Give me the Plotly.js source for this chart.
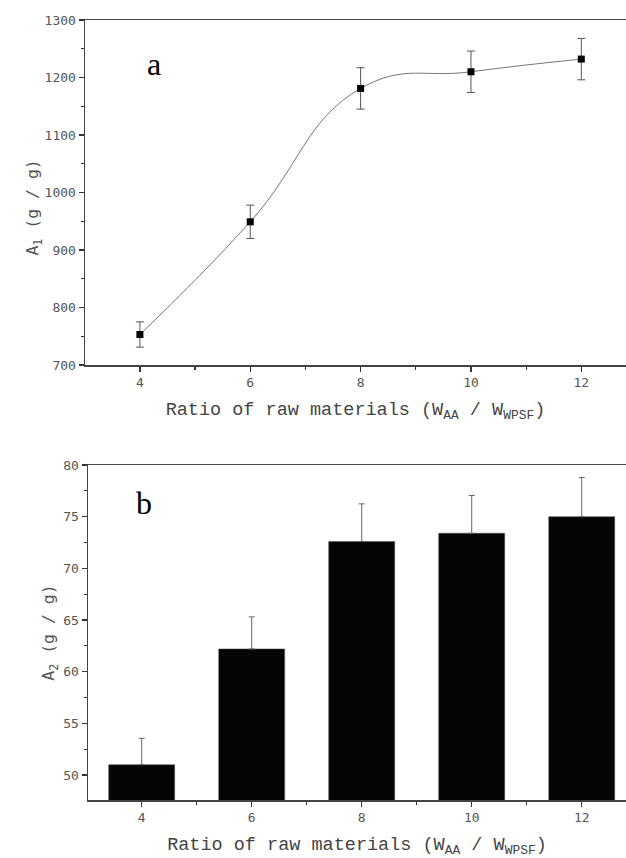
<!DOCTYPE html>
<html>
<head>
<meta charset="utf-8">
<script src="https://cdn.plot.ly/plotly-3.0.1.min.js"></script>
<style>html,body{margin:0;padding:0;background:#fff;}#chart{width:626px;height:858px;}</style>
</head>
<body>
<div id="chart"></div>
<script>
// Panel a: A1 (g/g) vs ratio
const ratio = [4, 6, 8, 10, 12];
const a1 = [753, 949, 1181, 1210, 1232];
const a1Err = [22, 29, 36, 36, 36];
// Panel b: A2 (g/g) bars
const a2 = [51.0, 62.2, 72.6, 73.4, 75.0];
const a2Err = [2.55, 3.1, 3.64, 3.65, 3.78];
const xTickVals = [4, 6, 8, 10, 12];
const xTickText = ['4', '6', '8', '10', '12'];

const tickFont = {family: 'DejaVu Sans Mono, monospace', size: 13, color: '#555'};
const titleFont = {family: 'Liberation Mono, Courier New, monospace', size: 18.5, color: '#444'};
const yTitleFont = {family: 'DejaVu Sans Mono, monospace', size: 16.5, color: '#555'};
const lineCol = '#444';
const xTitle = 'Ratio of raw materials (W<sub>AA</sub> / W<sub>WPSF</sub>)';

const W = 626, H = 858;

const traces = [
  {
    x: ratio, y: a1, type: 'scatter', mode: 'lines',
    line: {shape: 'spline', smoothing: 1.3, color: '#777', width: 1},
    xaxis: 'x', yaxis: 'y', hoverinfo: 'skip'
  },
  {
    x: ratio, y: a1, type: 'scatter', mode: 'markers',
    marker: {symbol: 'square', size: 7, color: '#000'},
    error_y: {type: 'data', array: a1Err, visible: true, color: '#555', thickness: 1, width: 4},
    xaxis: 'x', yaxis: 'y'
  },
  {
    x: ratio, y: a2, type: 'bar', width: 1.2,
    marker: {color: '#050505', line: {color: '#555', width: 0.5}},
    error_y: {type: 'data', symmetric: false, array: a2Err, arrayminus: [0,0,0,0,0], visible: true, color: '#666', thickness: 1, width: 3},
    xaxis: 'x2', yaxis: 'y2'
  }
];

const commonX = {
  tickvals: xTickVals, ticktext: xTickText,
  ticks: 'outside', ticklen: 5, tickwidth: 1.5, tickcolor: '#333',
  minor: {dtick: 1, tick0: 3, ticks: 'outside', ticklen: 3, tickwidth: 1.2, tickcolor: '#333'},
  showline: true, linecolor: lineCol, linewidth: 1.5, mirror: true,
  showgrid: false, zeroline: false, tickfont: tickFont, fixedrange: true
};
const commonY = {
  ticks: 'outside', ticklen: 5, tickwidth: 1.5, tickcolor: '#333',
  showline: true, linecolor: lineCol, linewidth: 1.5, mirror: false,
  showgrid: false, zeroline: false, tickfont: tickFont, fixedrange: true
};

const layout = {
  width: W, height: H,
  margin: {l: 0, r: 0, t: 0, b: 0},
  paper_bgcolor: '#fff', plot_bgcolor: '#fff',
  showlegend: false,
  xaxis: Object.assign({}, commonX, {
    domain: [85 / W, 1], range: [3.005, 12.81], anchor: 'y',
    title: {text: xTitle, font: titleFont, standoff: 13}
  }),
  yaxis: Object.assign({}, commonY, {
    domain: [1 - 365 / H, 1 - 20 / H], range: [700, 1300], dtick: 100, anchor: 'x',
    minor: {dtick: 50, ticks: 'outside', ticklen: 3, tickwidth: 1.2, tickcolor: '#333'},
    title: {text: 'A<sub>1</sub> (g / g)&nbsp;&nbsp;&nbsp;', font: yTitleFont, standoff: 0}
  }),
  xaxis2: Object.assign({}, commonX, {
    domain: [88 / W, 1], range: [3.024, 12.805], anchor: 'y2',
    title: {text: xTitle, font: titleFont, standoff: 14}
  }),
  yaxis2: Object.assign({}, commonY, {
    domain: [1 - 800 / H, 1 - 465 / H], range: [47.58, 80], dtick: 5, anchor: 'x2',
    minor: {dtick: 2.5, ticks: 'outside', ticklen: 3, tickwidth: 1.2, tickcolor: '#333'},
    title: {text: 'A<sub>2</sub> (g / g)', font: yTitleFont, standoff: 4}
  }),
  annotations: [
    {text: 'a', xref: 'paper', yref: 'paper', x: 154 / W, y: 1 - 64 / H, showarrow: false,
     font: {family: 'Liberation Serif', size: 32, color: '#000'}, xanchor: 'center', yanchor: 'middle'},
    {text: 'b', xref: 'paper', yref: 'paper', x: 144 / W, y: 1 - 503 / H, showarrow: false,
     font: {family: 'Liberation Serif', size: 32, color: '#000'}, xanchor: 'center', yanchor: 'middle'}
  ]
};

Plotly.newPlot('chart', traces, layout, {displayModeBar: false, staticPlot: true});
</script>
</body>
</html>
